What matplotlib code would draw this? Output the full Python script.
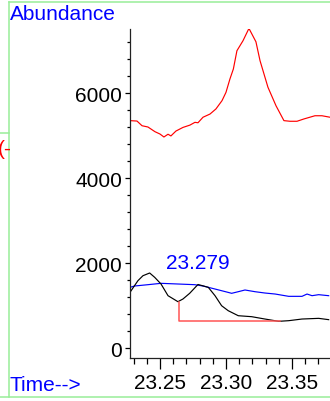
import matplotlib
matplotlib.use("Agg")
import matplotlib.pyplot as plt
from matplotlib.lines import Line2D
from matplotlib.ticker import MultipleLocator

plt.rcParams['font.family'] = ['Liberation Sans', 'DejaVu Sans']

# red trace (upper)
red_t = [23.2273, 23.2326, 23.2364, 23.2409, 23.2462, 23.2500, 23.2530, 23.2561, 23.2583,
         23.2621, 23.2674, 23.2727, 23.2765, 23.2788, 23.2826, 23.2879, 23.2924, 23.2970,
         23.3000, 23.3030, 23.3056, 23.3083, 23.3129, 23.3174, 23.3227, 23.3258, 23.3318,
         23.3379, 23.3439, 23.3485, 23.3538, 23.3591, 23.3674, 23.3727, 23.3788]
red_v = [5350, 5340, 5230, 5200, 5090, 5035, 4965, 5030, 4990,
         5105, 5190, 5245, 5310, 5300, 5430, 5505, 5625, 5820,
         6015, 6330, 6565, 6995, 7230, 7520, 7205, 6760, 6135,
         5700, 5350, 5335, 5335, 5390, 5465, 5465, 5430]

# black trace
blk_t = [23.2273, 23.2333, 23.2371, 23.2422, 23.2460, 23.2508, 23.2561, 23.2636, 23.2674,
         23.2725, 23.2788, 23.2866, 23.2917, 23.2967, 23.3017, 23.3093, 23.3195, 23.3295,
         23.3399, 23.3475, 23.3576, 23.3702, 23.3778]
blk_v = [1310, 1584, 1701, 1765, 1663, 1506, 1231, 1090, 1153,
         1287, 1495, 1428, 1231, 995, 878, 760, 737, 682,
         628, 643, 682, 698, 667]

# blue trace
blu_t = [23.2273, 23.2308, 23.2409, 23.2508, 23.2636, 23.2763, 23.2826, 23.2917, 23.3015,
         23.3043, 23.3093, 23.3144, 23.3220, 23.3295, 23.3373, 23.3475, 23.3576, 23.3614,
         23.3652, 23.3702, 23.3778]
blu_v = [1428, 1459, 1490, 1522, 1506, 1490, 1459, 1388, 1310,
         1287, 1325, 1365, 1325, 1294, 1270, 1216, 1216, 1270,
         1231, 1255, 1231]

# integration baseline
base_t = [23.2644, 23.2644, 23.3409]
base_v = [1090, 647, 647]

peak_label = "23.279"
peak_t = 23.2788
peak_v = 1495

W, H = 330, 402
fig = plt.figure(figsize=(W / 100, H / 100), dpi=100)
ax = fig.add_axes([130 / W, 43 / H, 200 / W, 329 / H])

ax.plot(red_t, red_v, color='#ff0000', lw=0.85)
ax.plot(blu_t, blu_v, color='#0000ff', lw=0.85)
ax.plot(blk_t, blk_v, color='black', lw=0.85)
ax.plot(base_t, base_v, color='#ff5555', lw=1.1)
ax.text(peak_t, peak_v + 520, peak_label, color='#0000ff', fontsize=15,
        ha='center', va='center')

ax.set_xlim(23.2273, 23.3788)
ax.set_ylim(-235, 7506)
ax.spines['top'].set_visible(False)
ax.spines['right'].set_visible(False)
for s in ('left', 'bottom'):
    ax.spines[s].set_color('#222222')
    ax.spines[s].set_linewidth(0.9)

ax.xaxis.set_major_locator(MultipleLocator(0.05))
ax.xaxis.set_minor_locator(MultipleLocator(0.01))
ax.yaxis.set_major_locator(MultipleLocator(2000))
ax.yaxis.set_minor_locator(MultipleLocator(400))
ax.xaxis.set_major_formatter(plt.FuncFormatter(lambda v, p: f"{v:.2f}"))
ax.tick_params(axis='x', which='major', length=8, width=0.9, pad=3, labelsize=15)
ax.tick_params(axis='x', which='minor', length=4.3, width=0.9)
ax.tick_params(axis='y', which='major', length=3.6, width=0.9, pad=2, labelsize=15)
ax.tick_params(axis='y', which='minor', length=2.2, width=0.9)

fig.text(10 / W, 1 - 15 / H, "Abundance", color='#0000ff', fontsize=15, va='center', ha='left')
fig.text(10 / W, 1 - 386 / H, "Time-->", color='#0000ff', fontsize=15, va='center', ha='left')
# label clipped at the left edge, as in the source chart
fig.text(-2 / W, 1 - 150 / H, "(-", color='#ff0000', fontsize=15, va='center', ha='left')

# green frame lines
g = '#99ee99'
def px_line(x0, y0, x1, y1):
    fig.add_artist(Line2D([x0 / W, x1 / W], [1 - y0 / H, 1 - y1 / H],
                          color=g, lw=1.1, transform=fig.transFigure))

px_line(8.5, 2.5, 330, 2.5)
px_line(8.5, 2.5, 8.5, 398)
px_line(0, 398, 330, 398)
px_line(0, 134, 8.5, 134)

fig.savefig("out.png", dpi=100)
